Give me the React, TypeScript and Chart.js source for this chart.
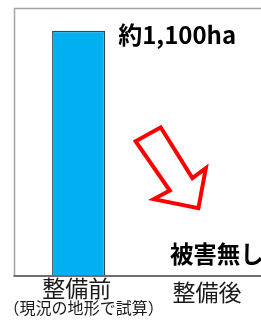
import React, { useEffect, useRef } from "react";
import { Chart, registerables } from "chart.js";

Chart.register(...registerables);

const categories = ["整備前", "整備後"];
const areaValues = [1100, 0];
const categoryNotes = ["（現況の地形で試算）", ""];
const valueLabels = ["約1,100ha", "被害無し"];
const yMax = 1200;
// hollow arrow outline, in (category index, value) units
const arrowPoints: [number, number][] = [
  [0.445, 604],
  [0.64, 667],
  [0.887, 439],
  [0.992, 484],
  [0.934, 304],
  [0.586, 345],
  [0.711, 383],
];

const FONT = '"Noto Sans CJK JP", "Noto Sans", sans-serif';
// label placement styling (offsets from the tick position / axis line)
const nameDx = [-2, 0];
const nameDy = [12, 16.5];

const overlay = {
  id: "overlay",
  beforeDatasetsDraw(chart: any) {
    const { ctx, chartArea: a } = chart;
    ctx.save();
    ctx.strokeStyle = "#A3A3A3";
    ctx.lineWidth = 1.5;
    ctx.beginPath();
    ctx.moveTo(a.left, a.bottom);
    ctx.lineTo(a.left, a.top);
    ctx.lineTo(a.right + 20, a.top);
    ctx.stroke();
    ctx.restore();
  },
  afterDatasetsDraw(chart: any) {
    const { ctx, chartArea: a, scales } = chart;
    const x = scales.x;
    const y = scales.y;
    ctx.save();
    // bottom axis line
    ctx.strokeStyle = "#6E6E6E";
    ctx.lineWidth = 2;
    ctx.beginPath();
    ctx.moveTo(a.left - 1, a.bottom);
    ctx.lineTo(a.right + 20, a.bottom);
    ctx.stroke();

    // value annotations
    const bar = chart.getDatasetMeta(0).data[0];
    ctx.fillStyle = "#000";
    ctx.textAlign = "left";
    ctx.textBaseline = "middle";
    ctx.font = `bold 24px ${FONT}`;
    ctx.fillText(valueLabels[0], bar.x + bar.width / 2 + 13, y.getPixelForValue(areaValues[0]) + 4);
    ctx.font = `bold 23.5px ${FONT}`;
    ctx.fillText(valueLabels[1], x.getPixelForValue(1) - 37, y.getPixelForValue(areaValues[1]) - 22);

    // arrow
    ctx.strokeStyle = "#FF0000";
    ctx.lineWidth = 4;
    ctx.lineJoin = "miter";
    ctx.beginPath();
    arrowPoints.forEach(([i, v], k) => {
      const px = x.getPixelForValue(i);
      const py = y.getPixelForValue(v);
      if (k === 0) ctx.moveTo(px, py);
      else ctx.lineTo(px, py);
    });
    ctx.closePath();
    ctx.stroke();

    // category names and notes
    ctx.fillStyle = "#1a1a1a";
    ctx.textAlign = "center";
    ctx.font = `23px ${FONT}`;
    categories.forEach((c, i) => {
      ctx.fillText(c, x.getPixelForValue(i) + nameDx[i], a.bottom + nameDy[i]);
    });
    ctx.font = `16px ${FONT}`;
    categoryNotes.forEach((n, i) => {
      if (n) ctx.fillText(n, x.getPixelForValue(i) + 5, a.bottom + 32);
    });
    ctx.restore();
  },
};

export default function App() {
  const ref = useRef<HTMLCanvasElement>(null);
  useEffect(() => {
    if (!ref.current) return;
    const chart = new Chart(ref.current, {
      type: "bar",
      data: {
        labels: categories,
        datasets: [
          {
            data: areaValues,
            backgroundColor: "#00B0F0",
            borderColor: "#2B4957",
            borderWidth: 1.5,
            barPercentage: 0.414,
            categoryPercentage: 1,
          },
        ],
      },
      options: {
        responsive: false,
        animation: false,
        devicePixelRatio: 1,
        layout: { padding: { left: 14.5, right: 9, top: 8.5, bottom: 44 } },
        plugins: { legend: { display: false }, tooltip: { enabled: false } },
        scales: {
          y: { display: false, min: 0, max: yMax },
          x: { display: false },
        },
      },
      plugins: [overlay],
    });
    return () => chart.destroy();
  }, []);
  return (
    <div style={{ position: "fixed", left: 0, top: 0, width: 261, height: 320, overflow: "hidden", background: "#fff" }}>
      <canvas ref={ref} width={280} height={320} />
    </div>
  );
}
